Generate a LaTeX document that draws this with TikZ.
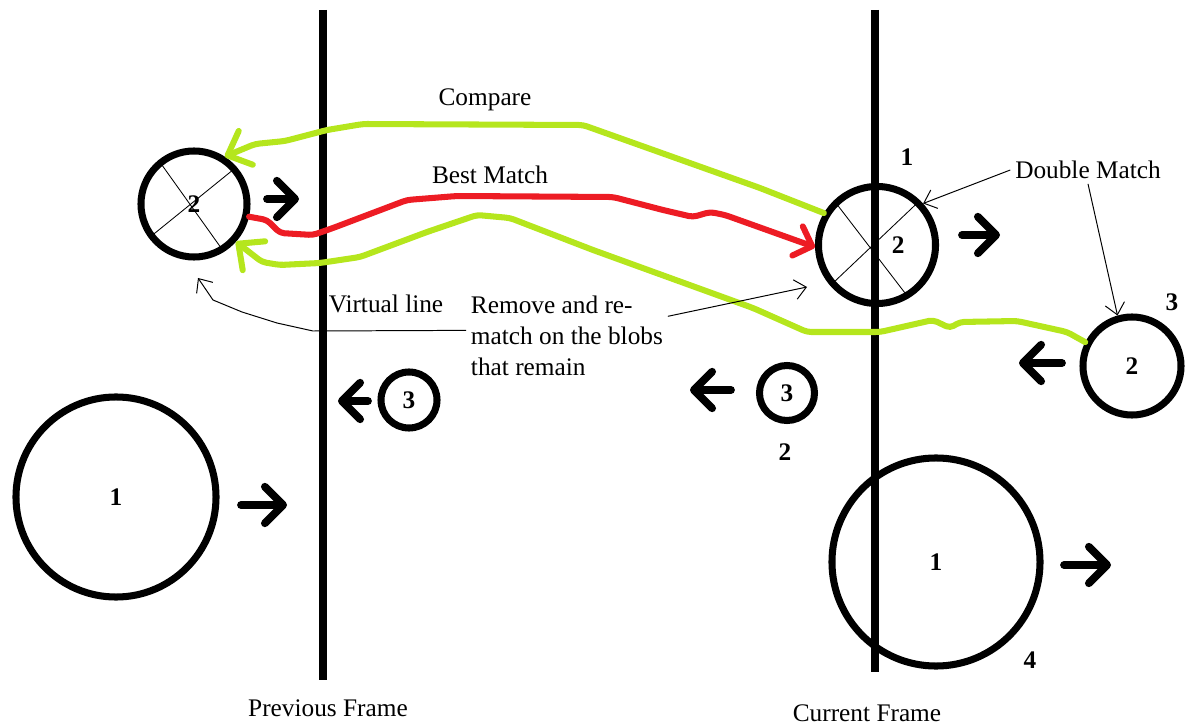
\documentclass[tikz,border=0pt]{standalone}
\usepackage{fontspec}
\setmainfont{Liberation Serif}
\usepackage{tikz}
\usetikzlibrary{arrows.meta}
\definecolor{paintgreen}{RGB}{181,230,29}
\definecolor{paintred}{RGB}{237,28,36}

\begin{document}
\begin{tikzpicture}[x=0.025cm, y=-0.025cm,
		every node/.style={font=\fontsize{18}{22}\selectfont},
		digit/.style={font=\fontsize{18}{22}\selectfont\bfseries},
		blob/.style={circle, draw, line width=5pt, inner sep=0pt, digit},
		frameline/.style={line width=5.5pt},
		move/.style={line width=5.5pt, line cap=round, -{Straight Barb[length=13pt, width=26pt, round]}},
		compare/.style={paintgreen, line width=4.3pt, line cap=round, line join=round, rounded corners=3pt, -{Straight Barb[length=14pt, width=26pt, round]}},
		best/.style={compare, paintred, -{Straight Barb[length=11pt, width=22pt, round]}},
		note/.style={line width=0.7pt, -{Straight Barb[length=8pt, width=14pt]}}]
		\useasboundingbox (0,0) rectangle (1186,728);

		% blobs in the previous frame
		\node[blob, minimum size=2.65cm] (p2) at (194,204) {2};
		\node[blob, minimum size=1.4cm] (p3) at (409,400) {3};
		\node[blob, minimum size=5cm] (p1) at (116,497) {1};
		% blobs in the current frame
		\node[blob, minimum size=2.925cm, label={[digit, xshift=15pt]center:2}] (c1) at (877,245) {};
		\node[blob, minimum size=1.375cm] (c2) at (787,393) {3};
		\node[blob, minimum size=2.45cm] (c3) at (1132,366) {2};
		\node[blob, minimum size=5.2cm] (c4) at (936,562) {1};
		\draw[line width=0.6pt] (p2.129) -- (p2.-58) (p2.41) -- (p2.217);
		\draw[line width=0.6pt] (c1.134) -- (c1.-59) (c1.46) -- (c1.221);
		\node[digit] (i1) at (907,157) {1};
		\node[digit] (i2) at (785,452) {2};
		\node[digit] (i3) at (1172,302) {3};
		\node[digit] (i4) at (1030,660) {4};

		% the two frame lines
		\coordinate (prevtop) at (323,10);
		\coordinate (prevbot) at (323,680);
		\coordinate (curtop) at (875,10);
		\coordinate (curbot) at (875,672);
		\draw[frameline] (prevtop) -- (prevbot);
		\draw[frameline] (curtop) -- (curbot);
		\node (prevlbl) at (328,708) {Previous Frame};
		\node (curlbl) at (867,713) {Current Frame};

		% direction of motion
		\draw[move] (267,199) -- (299,199);
		\draw[move] (368,401) -- (338,401);
		\draw[move] (241,505) -- (287,505);
		\draw[move] (962,235) -- (1000,235);
		\draw[move] (731,390) -- (690,390);
		\draw[move] (1062,363) -- (1019,363);
		\draw[move] (1064,565) -- (1111,565);

		% matching
		\node (cmp) at (485,100) {Compare};
		\node (bm) at (490,175) {Best Match};
		\draw[compare] (c1.149) -- (760,188) -- (583,125) -- (363,124) -- (327,130) -- (285,141) -- (255,144) -- (p2.57);
		\draw[best] (p2.-13) -- (267,220) -- (280,233) -- (313,235) -- (333,228) -- (407,200) -- (457,196) -- (613,197) -- (663,210) -- (693,217) -- (710,212) -- (725,215) -- (c1.182);
		\draw[compare] (c3.153) -- (1067,332) -- (1017,321) -- (960,322) -- (950,328) -- (933,320) -- (880,332) -- (807,332) -- (753,308) -- (593,250) -- (510,218) -- (477,215) -- (427,232) -- (360,257) -- (320,263) -- (280,265) -- (262,262) -- (p2.-42);

		% notes
		\node (dm) at (1088,170) {Double Match};
		\draw[note] (dm.west) -- (c1.42);
		\draw[note] (dm.south) -- (c3.106);
		\node (vl) at (386,304) {Virtual line};
		\node[align=left, anchor=west] (rm) at (466,336) {Remove and re-\\match on the blobs\\that remain};
		\coordinate (vtip) at (198,278);
		\coordinate (rtip) at (807,287);
		\draw[note] ([yshift=4pt]rm.west) -- (313,331) -- (277,323) -- (242,312) -- (213,300) -- (vtip);
		\draw[note] ([yshift=14pt]rm.east) -- (rtip);
	\end{tikzpicture}
\end{document}
